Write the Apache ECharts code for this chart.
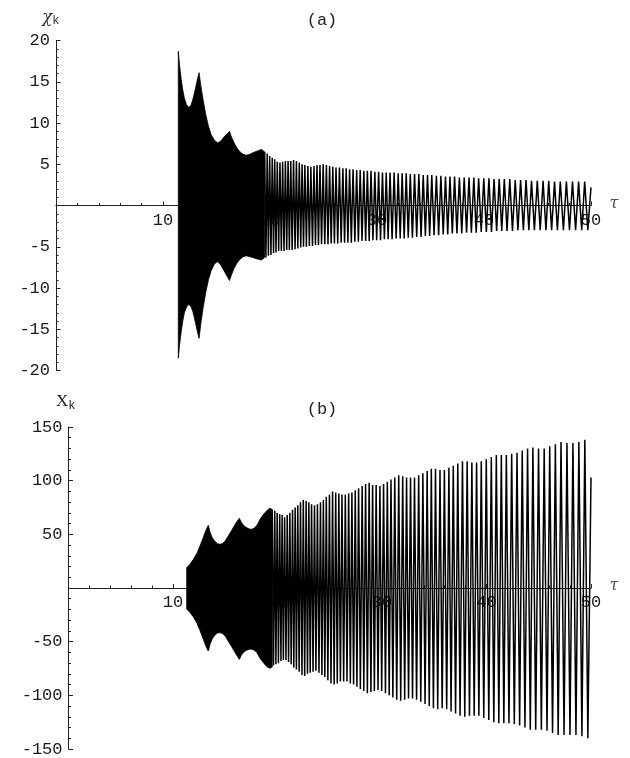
<!DOCTYPE html>
<html><head><meta charset="utf-8">
<script src="https://cdn.jsdelivr.net/npm/echarts@6/dist/echarts.min.js"></script>
<style>html,body{margin:0;padding:0;background:#fff}#c{width:630px;height:758px}</style>
</head><body><div id="c"></div>
<script>
// ---------- data ----------
// axis ticks
const tauTicks = [10, 20, 30, 40, 50];
const chiTicks = [-20, -15, -10, -5, 5, 10, 15, 20];
const xTicks = [-150, -100, -50, 50, 100, 150];

// panel (a): solid (unresolved) region envelope
const tauBandA = [11.43, 11.55, 11.7, 11.85, 12.0, 12.2, 12.4, 12.6, 12.8, 13.0, 13.2, 13.37,
  13.55, 13.75, 14.0, 14.25, 14.5, 14.8, 15.1, 15.4, 15.7, 16.0, 16.21,
  16.4, 16.65, 16.9, 17.2, 17.5, 17.8, 18.1, 18.4, 18.7, 19.0, 19.21, 19.5];
const chiBandUp = [18.7, 17.0, 15.3, 14.0, 13.0, 12.2, 11.9, 12.1, 12.9, 14.0, 15.2, 16.1,
  14.4, 12.8, 11.0, 9.6, 8.6, 7.9, 7.6, 7.8, 8.3, 8.7, 9.0,
  8.3, 7.6, 7.0, 6.5, 6.2, 6.1, 6.2, 6.4, 6.55, 6.7, 6.8, 6.5];
const chiBandLo = [-18.5, -16.9, -15.3, -14.0, -13.0, -12.3, -12.0, -12.2, -12.9, -14.0, -15.2, -16.1,
  -14.2, -12.4, -10.5, -9.0, -7.9, -7.1, -6.8, -7.2, -7.9, -8.6, -9.1,
  -8.4, -7.6, -7.0, -6.5, -6.2, -6.1, -6.2, -6.3, -6.45, -6.55, -6.6, -6.3];

// panel (b): solid (unresolved) region envelope
const tauBandB = [11.31, 11.6, 11.95, 12.3, 12.58, 12.85, 13.06, 13.25, 13.38,
  13.55, 13.75, 14.0, 14.25, 14.5, 14.75, 15.0, 15.29, 15.6, 15.9, 16.15, 16.35,
  16.55, 16.8, 17.05, 17.3, 17.53, 17.8, 18.05, 18.33, 18.6, 18.9, 19.1, 19.28, 19.5];
const xBandUp = [18.9, 22, 26.7, 32.5, 39.1, 46, 51.5, 56, 58.4,
  52, 47, 43.5, 41.3, 40.7, 41.5, 44, 48.5, 53.5, 58.5, 62.5, 65.0,
  61, 58, 56.2, 55.0, 54.7, 56, 58.8, 64.0, 67.8, 71.2, 73.2, 74.3, 73.1];
const xBandLo = [-19.6, -22.5, -27, -33, -39.5, -46.5, -52, -56.5, -58.7,
  -52.5, -47.5, -44, -42, -41.6, -42.5, -45, -49.5, -54.5, -59.5, -63.5, -66.5,
  -62.5, -59.5, -58, -57, -57, -58, -60.5, -65.5, -69, -72.5, -74, -74.8, -73.5];

// times of successive extrema (shared by both panels)
const tauExt = [
 19.50,19.62,19.74,19.85,19.97,20.09,20.21,20.33,20.44,20.56,
 20.68,20.81,20.93,21.06,21.18,21.31,21.44,21.56,21.69,21.81,
 21.94,22.07,22.20,22.34,22.47,22.60,22.74,22.87,23.00,23.13,
 23.26,23.40,23.54,23.68,23.82,23.97,24.11,24.25,24.39,24.53,
 24.67,24.82,24.97,25.12,25.27,25.42,25.57,25.72,25.87,26.02,
 26.17,26.33,26.49,26.65,26.81,26.97,27.12,27.28,27.44,27.60,
 27.76,27.93,28.10,28.26,28.43,28.60,28.77,28.94,29.10,29.27,
 29.44,29.62,29.80,29.97,30.15,30.33,30.51,30.69,30.86,31.04,
 31.22,31.41,31.60,31.79,31.98,32.17,32.35,32.54,32.73,32.92,
 33.11,33.31,33.51,33.71,33.91,34.12,34.32,34.52,34.72,34.92,
 35.12,35.33,35.55,35.76,35.97,36.19,36.40,36.61,36.82,37.04,
 37.25,37.47,37.70,37.92,38.15,38.37,38.60,38.82,39.05,39.27,
 39.50,39.74,39.98,40.22,40.46,40.70,40.94,41.18,41.42,41.66,
 41.90,42.15,42.41,42.66,42.92,43.17,43.42,43.68,43.93,44.19,
 44.44,44.71,44.98,45.25,45.52,45.79,46.05,46.32,46.59,46.86,
 47.13,47.42,47.70,47.99,48.27,48.56,48.84,49.13,49.41,49.70,
 50.00];

// panel (a) extremum values chi_k
const chiExt = [
 6.5,-6.3,6.3,-6.1,6.0,-6.0,5.8,-5.8,5.6,-5.7,
 5.3,-5.5,5.2,-5.5,5.3,-5.5,5.4,-5.4,5.4,-5.4,
 5.4,-5.4,5.5,-5.3,5.4,-5.2,5.2,-5.1,5.0,-5.0,
 4.9,-5.0,4.8,-4.9,4.7,-4.9,4.8,-4.8,4.9,-4.8,
 4.9,-4.7,5.0,-4.7,4.9,-4.7,4.8,-4.6,4.7,-4.6,
 4.6,-4.6,4.6,-4.5,4.5,-4.5,4.5,-4.5,4.4,-4.5,
 4.4,-4.4,4.3,-4.4,4.3,-4.3,4.2,-4.3,4.2,-4.3,
 4.2,-4.2,4.1,-4.2,4.1,-4.2,4.0,-4.1,4.0,-4.1,
 4.0,-4.1,4.0,-4.0,3.9,-4.0,3.9,-4.0,3.9,-3.9,
 3.8,-3.9,3.8,-3.8,3.8,-3.8,3.7,-3.7,3.7,-3.7,
 3.7,-3.6,3.6,-3.6,3.6,-3.5,3.5,-3.5,3.5,-3.4,
 3.5,-3.4,3.4,-3.4,3.4,-3.3,3.4,-3.3,3.4,-3.3,
 3.3,-3.2,3.3,-3.2,3.3,-3.2,3.2,-3.1,3.2,-3.1,
 3.2,-3.1,3.2,-3.1,3.1,-3.0,3.1,-3.0,3.1,-3.0,
 3.0,-3.0,3.0,-3.0,3.0,-3.0,3.0,-3.0,2.9,-3.0,
 2.9,-3.0,2.9,-3.0,2.9,-3.0,2.9,-3.0,2.9,-3.0,
 2.2];

// panel (b) extremum values X_k
const xExt = [
 73,-72,72,-71,70,-70,69,-68,68,-67,
 66,-67,68,-69,70,-71,73,-74,75,-76,
 77,-78,80,-81,82,-82,81,-80,80,-79,
 78,-78,77,-77,78,-79,80,-81,82,-83,
 85,-86,87,-89,90,-90,89,-89,88,-87,
 87,-87,87,-87,88,-89,89,-90,91,-92,
 93,-94,95,-96,97,-98,98,-97,96,-96,
 96,-95,95,-96,97,-98,99,-100,101,-102,
 103,-104,105,-105,104,-104,103,-103,103,-103,
 103,-104,105,-106,107,-108,109,-110,111,-112,
 111,-113,110,-112,110,-113,112,-115,114,-117,
 116,-119,118,-120,118,-119,117,-119,117,-119,
 118,-121,120,-123,122,-125,124,-126,124,-126,
 124,-126,125,-127,126,-128,128,-130,130,-132,
 131,-132,130,-132,130,-133,132,-135,134,-137,
 136,-137,135,-137,135,-137,136,-138,138,-140,
 103];

// ---------- chart ----------
const FONT = 'Liberation Mono';
const chart = echarts.init(document.getElementById('c'), null, {renderer: 'canvas'});

function xAxisCfg(gi, off) {
  return {
    type: 'value', gridIndex: gi, min: 0, max: 50, interval: 10, position: 'bottom', offset: off,
    axisLine: {onZero: false, lineStyle: {color: '#222', width: 1}},
    axisTick: {show: true, inside: true, length: 4, lineStyle: {color: '#222'}},
    minorTick: {show: true, splitNumber: 5, length: 2.5, lineStyle: {color: '#222'}},
    splitLine: {show: false}, minorSplitLine: {show: false},
    axisLabel: {margin: 6, fontFamily: FONT, fontSize: 17, color: '#1a1a1a',
      formatter: v => tauTicks.includes(v) ? String(v) : ''}
  };
}
function yAxisCfg(gi, lim, step, ticks) {
  return {
    type: 'value', gridIndex: gi, min: -lim, max: lim, interval: step,
    axisLine: {show: true, onZero: false, lineStyle: {color: '#222', width: 1}},
    axisTick: {show: true, inside: true, length: 4.5, lineStyle: {color: '#222'}},
    minorTick: {show: true, splitNumber: 5, length: 2.5, lineStyle: {color: '#222'}},
    splitLine: {show: false}, minorSplitLine: {show: false},
    axisLabel: {margin: 6, fontFamily: FONT, fontSize: 17, color: '#1a1a1a',
      formatter: v => ticks.includes(v) ? String(v) : ''}
  };
}
function band(tau, up, lo, gi) {
  return {
    type: 'custom', xAxisIndex: gi, yAxisIndex: gi, silent: true, animation: false, z: 3,
    data: [[tau[0], up[0]]],
    renderItem: (params, api) => {
      const pts = [];
      for (let i = 0; i < tau.length; i++) pts.push(api.coord([tau[i], up[i]]));
      for (let i = tau.length - 1; i >= 0; i--) pts.push(api.coord([tau[i], lo[i]]));
      return {type: 'polygon', shape: {points: pts}, style: {fill: '#000', stroke: '#000', lineWidth: 0.8}};
    }
  };
}
function wave(vals, gi) {
  return {
    type: 'line', xAxisIndex: gi, yAxisIndex: gi, silent: true, animation: false, z: 3,
    showSymbol: false, symbol: 'none', sampling: null,
    lineStyle: {color: '#000', width: 1.5},
    data: tauExt.map((t, i) => [t, vals[i]])
  };
}

chart.setOption({
  animation: false,
  grid: [
    {left: 56, top: 40.5, width: 535, height: 330},
    {left: 68.5, top: 427, width: 522.5, height: 322}
  ],
  xAxis: [xAxisCfg(0, -165), xAxisCfg(1, -161)],
  yAxis: [yAxisCfg(0, 20, 5, chiTicks), yAxisCfg(1, 150, 50, xTicks)],
  series: [
    band(tauBandA, chiBandUp, chiBandLo, 0),
    wave(chiExt, 0),
    band(tauBandB, xBandUp, xBandLo, 1),
    wave(xExt, 1)
  ],
  graphic: [
    {type: 'text', left: 42, top: 9, style: {
      text: '{a|χ}{b|k}', rich: {
        a: {fontFamily: 'DejaVu Serif', fontStyle: 'italic', fontSize: 17, fill: '#333'},
        b: {fontFamily: FONT, fontSize: 12, fill: '#333', padding: [6, 0, 0, 0]}}}},
    {type: 'text', left: 56, top: 393, style: {
      text: '{a|X}{b|k}', rich: {
        a: {fontFamily: 'Liberation Serif', fontSize: 17, fill: '#222'},
        b: {fontFamily: FONT, fontSize: 12, fill: '#222', padding: [8, 0, 0, 0]}}}},
    {type: 'text', x: 322, y: 20, style: {text: '(a)', fontFamily: FONT, fontSize: 17, fill: '#222', align: 'center', verticalAlign: 'middle'}},
    {type: 'text', x: 322, y: 409, style: {text: '(b)', fontFamily: FONT, fontSize: 17, fill: '#222', align: 'center', verticalAlign: 'middle'}},
    {type: 'text', x: 614, y: 204, style: {text: 'τ', fontFamily: 'DejaVu Serif', fontStyle: 'italic', fontSize: 16, fill: '#555', align: 'center', verticalAlign: 'middle'}},
    {type: 'text', x: 614, y: 586, style: {text: 'τ', fontFamily: 'DejaVu Serif', fontStyle: 'italic', fontSize: 16, fill: '#555', align: 'center', verticalAlign: 'middle'}}
  ]
});
</script>
</body></html>
